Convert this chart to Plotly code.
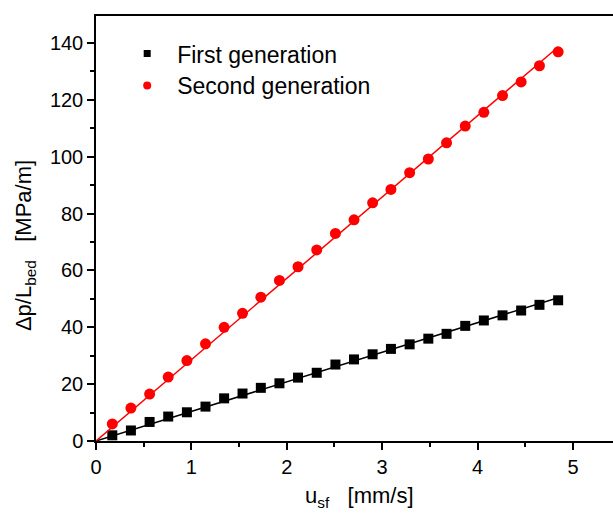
import numpy as np
import plotly.graph_objects as go

# superficial velocity u_sf [mm/s]
u_sf = [0.171, 0.366, 0.562, 0.757, 0.953, 1.148, 1.343, 1.536, 1.728, 1.923,
        2.118, 2.314, 2.510, 2.705, 2.900, 3.092, 3.288, 3.484, 3.675, 3.871,
        4.066, 4.262, 4.457, 4.649, 4.845]

# pressure gradient dp/L_bed [MPa/m]
first_gen = [2.0, 3.7, 6.7, 8.6, 10.1, 12.1, 15.0, 16.7, 18.7, 20.3,
             22.3, 24.0, 26.9, 28.7, 30.5, 32.4, 34.0, 36.0, 37.7, 40.5,
             42.4, 44.2, 45.9, 47.9, 49.5]
second_gen = [6.0, 11.6, 16.5, 22.5, 28.3, 34.2, 40.0, 44.9, 50.6, 56.5,
              61.3, 67.2, 73.0, 77.8, 83.8, 88.5, 94.4, 99.2, 104.9, 110.8,
              115.6, 121.5, 126.3, 132.0, 136.9]

series_names = ["First generation", "Second generation"]
colors = ["#000000", "#ff0000"]
symbols = ["square", "circle"]

x_ticks = [0, 1, 2, 3, 4, 5]
y_ticks = [0, 20, 40, 60, 80, 100, 120, 140]

FONT = "Arial, Liberation Sans, sans-serif"

fig = go.Figure()

x = np.array(u_sf)
for name, ys, col, sym, msize in zip(series_names, [first_gen, second_gen],
                                     colors, symbols, [10, 11]):
    y = np.array(ys)
    # linear fit through the origin
    slope = float(np.sum(x * y) / np.sum(x * x))
    xf = [0.0, float(x.max())]
    fig.add_trace(go.Scatter(x=xf, y=[slope * v for v in xf], mode="lines",
                             line=dict(color=col, width=1.5),
                             showlegend=False, hoverinfo="skip"))
    fig.add_trace(go.Scatter(x=u_sf, y=ys, mode="markers", name=name,
                             marker=dict(symbol=sym, size=msize, color=col),
                             showlegend=False))

# legend entries with smaller symbols, one legend box per series
for name, col, sym, msize, lg in zip(series_names, colors, symbols, [7, 8],
                                     ["legend", "legend2"]):
    fig.add_trace(go.Scatter(x=[None], y=[None], mode="markers", name=name,
                             legend=lg,
                             marker=dict(symbol=sym, size=msize, color=col)))

axis_common = dict(
    showline=True, linecolor="black", linewidth=1.5,
    ticks="outside", ticklen=7, tickwidth=1.5, tickcolor="black",
    showgrid=False, zeroline=False,
    tickfont=dict(family=FONT, size=20, color="black"),
)

fig.update_xaxes(range=[0, 5.42], tickvals=x_ticks, mirror=True,
                 minor=dict(dtick=0.5, ticklen=4, tickwidth=1.5, tickcolor="black",
                            ticks="outside"),
                 **axis_common)
fig.update_yaxes(range=[0, 149.5], tickvals=y_ticks,
                 minor=dict(dtick=10, ticklen=4, tickwidth=1.5, tickcolor="black",
                            ticks="outside"),
                 **axis_common)

sp = "\u00a0\u00a0\u00a0"
fig.add_annotation(text="Δp/L<sub>bed</sub>" + sp + "[MPa/m]", textangle=-90,
                   xref="paper", yref="paper", x=-0.137, y=0.459,
                   xanchor="center", yanchor="middle",
                   showarrow=False, font=dict(family=FONT, size=22, color="black"))
fig.add_annotation(text="u<sub>sf</sub>" + sp + "[mm/s]",
                   xref="paper", yref="paper", x=0.509, y=-0.132,
                   xanchor="center", yanchor="middle",
                   showarrow=False, font=dict(family=FONT, size=22, color="black"))

legend_style = dict(xanchor="left", yanchor="top", bgcolor="rgba(0,0,0,0)",
                    itemwidth=50, font=dict(family=FONT, size=23, color="black"))

fig.update_layout(
    width=613, height=513,
    margin=dict(l=96, r=0, t=16, b=72),
    paper_bgcolor="white", plot_bgcolor="white",
    font=dict(family=FONT, color="black"),
    showlegend=True,
    legend=dict(x=0.041, y=0.962, **legend_style),
    legend2=dict(x=0.041, y=0.887, **legend_style),
)

fig.write_html("out.html")
